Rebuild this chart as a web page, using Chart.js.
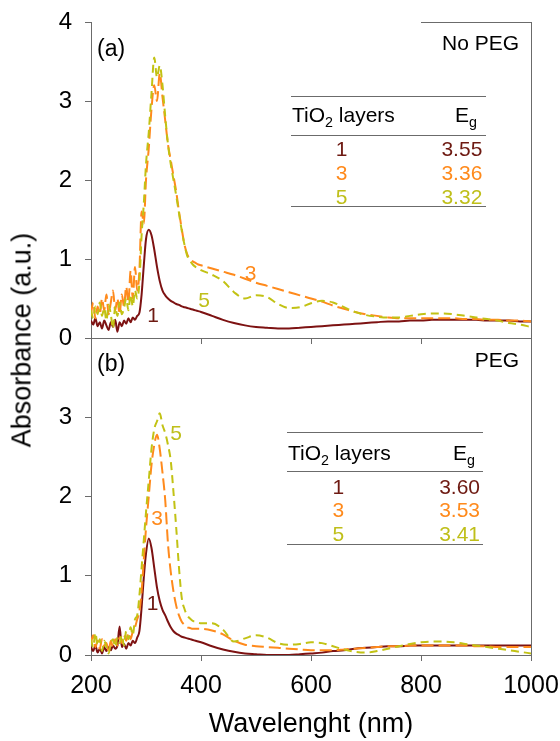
<!DOCTYPE html>
<html>
<head>
<meta charset="utf-8">
<script src="https://cdn.jsdelivr.net/npm/chart.js@4"></script>
<style>
    html, body { margin: 0; padding: 0; background: #fff; }
    .figure { position: relative; width: 560px; height: 741px; font-family: "Liberation Sans", Arial, sans-serif; color: #000; overflow: hidden; }
    .figure canvas { position: absolute; left: 0; }
    .txt { position: absolute; line-height: 1; white-space: nowrap; }
    .hline { position: absolute; height: 0; border-top: 1.5px solid #6b6b6b; }
    .txt sub { font-size: 0.68em; vertical-align: -0.32em; line-height: 0; }
</style>
</head>
<body>
<div class="figure" id="figure"></div>
<script>
// wavelength grid (nm)
const wavelength = [
    200, 204, 208, 212, 216, 220, 224, 228, 232, 236, 240, 244, 248, 252, 256, 260, 264, 268, 272, 276, 280, 284, 288, 292, 296, 300,
    305, 310, 315, 320, 325, 330, 335, 340, 345, 350, 355, 360, 365, 370, 375, 380, 385, 390, 395, 400,
    420, 440, 460, 480, 500, 520, 540, 560, 580, 600, 620, 640, 660, 680, 700, 720, 740, 760, 780, 800,
    820, 840, 860, 880, 900, 920, 940, 960, 980, 1000
];

// (a) No PEG
const noPeg1 = [
    0.22, 0.17, 0.25, 0.15, 0.20, 0.12, 0.22, 0.16, 0.10, 0.20, 0.14, 0.23, 0.08, 0.20, 0.15, 0.22, 0.18, 0.25, 0.20, 0.26, 0.23, 0.28, 0.32, 0.55, 0.92, 1.25,
    1.37, 1.30, 1.12, 0.90, 0.72, 0.60, 0.54, 0.50, 0.47, 0.45, 0.43, 0.42, 0.40, 0.39, 0.38, 0.37, 0.36, 0.35, 0.34, 0.33,
    0.28, 0.23, 0.19, 0.16, 0.14, 0.13, 0.12, 0.12, 0.13, 0.14, 0.15, 0.16, 0.17, 0.18, 0.19, 0.20, 0.21, 0.21, 0.22, 0.22,
    0.23, 0.23, 0.23, 0.23, 0.23, 0.22, 0.22, 0.22, 0.21, 0.21
];
const noPeg3 = [
    0.30, 0.45, 0.25, 0.40, 0.30, 0.50, 0.35, 0.55, 0.30, 0.45, 0.60, 0.35, 0.50, 0.30, 0.55, 0.40, 0.65, 0.45, 0.85, 0.50, 0.90, 0.60, 0.85, 1.60, 1.45, 2.00,
    2.40, 2.90, 3.20, 3.00, 3.35, 3.05, 2.75, 2.45, 2.25, 2.05, 1.85, 1.60, 1.38, 1.18, 1.06, 1.00, 0.97, 0.95, 0.93, 0.92,
    0.88, 0.84, 0.80, 0.75, 0.70, 0.66, 0.62, 0.58, 0.54, 0.50, 0.46, 0.41, 0.37, 0.33, 0.30, 0.28, 0.26, 0.25, 0.25, 0.25,
    0.25, 0.25, 0.25, 0.24, 0.24, 0.23, 0.23, 0.22, 0.22, 0.21
];
const noPeg5 = [
    0.35, 0.25, 0.40, 0.30, 0.45, 0.28, 0.38, 0.22, 0.42, 0.30, 0.12, 0.40, 0.28, 0.45, 0.30, 0.38, 0.50, 0.35, 0.55, 0.40, 0.60, 0.50, 0.70, 1.30, 1.70, 2.20,
    2.60, 3.10, 3.55, 3.30, 3.45, 3.20, 2.80, 2.45, 2.20, 2.00, 1.80, 1.58, 1.36, 1.18, 1.04, 0.98, 0.93, 0.90, 0.88, 0.86,
    0.80, 0.72, 0.58, 0.50, 0.54, 0.52, 0.43, 0.38, 0.39, 0.44, 0.47, 0.45, 0.39, 0.33, 0.29, 0.27, 0.26, 0.26, 0.28, 0.30,
    0.31, 0.31, 0.30, 0.28, 0.26, 0.24, 0.22, 0.19, 0.17, 0.14
];

// (b) PEG
const peg1 = [
    0.10, 0.05, 0.12, 0.03, 0.08, 0.02, 0.10, 0.05, 0.10, 0.06, 0.12, 0.08, 0.12, 0.36, 0.10, 0.14, 0.08, 0.15, 0.12, 0.18, 0.15, 0.22, 0.30, 0.60, 0.98, 1.28,
    1.47, 1.35, 1.10, 0.85, 0.68, 0.57, 0.50, 0.42, 0.35, 0.30, 0.27, 0.25, 0.23, 0.22, 0.21, 0.20, 0.19, 0.18, 0.17, 0.16,
    0.11, 0.07, 0.04, 0.02, 0.01, 0.00, 0.00, 0.00, 0.01, 0.02, 0.03, 0.05, 0.06, 0.08, 0.09, 0.10, 0.11, 0.11, 0.12, 0.12,
    0.12, 0.12, 0.12, 0.12, 0.12, 0.12, 0.12, 0.12, 0.12, 0.12
];
const peg3 = [
    0.15, 0.25, 0.10, 0.18, 0.08, 0.20, 0.12, 0.15, 0.05, 0.18, 0.10, 0.20, 0.12, 0.22, 0.15, 0.25, 0.18, 0.28, 0.20, 0.30, 0.35, 0.45, 0.55, 0.80, 1.20, 1.60,
    2.00, 2.40, 2.65, 2.78, 2.60, 2.30, 1.95, 1.40, 1.05, 0.80, 0.62, 0.50, 0.42, 0.38, 0.35, 0.34, 0.33, 0.33, 0.33, 0.33,
    0.31, 0.26, 0.18, 0.13, 0.11, 0.10, 0.09, 0.08, 0.07, 0.06, 0.06, 0.06, 0.07, 0.08, 0.09, 0.10, 0.11, 0.11, 0.12, 0.12,
    0.12, 0.12, 0.12, 0.12, 0.11, 0.11, 0.10, 0.10, 0.10, 0.10
];
const peg5 = [
    0.20, 0.10, 0.28, 0.12, 0.20, 0.05, 0.18, 0.10, 0.02, 0.15, 0.20, 0.10, 0.22, 0.15, 0.25, 0.12, 0.30, 0.20, 0.35, 0.25, 0.45, 0.50, 0.75, 1.10, 1.45, 1.80,
    2.20, 2.60, 2.85, 2.95, 3.05, 2.90, 2.80, 2.65, 2.45, 2.05, 1.60, 1.10, 0.72, 0.58, 0.50, 0.46, 0.43, 0.42, 0.41, 0.40,
    0.40, 0.32, 0.17, 0.21, 0.25, 0.22, 0.15, 0.13, 0.14, 0.16, 0.15, 0.11, 0.07, 0.04, 0.03, 0.05, 0.08, 0.11, 0.14, 0.16,
    0.17, 0.17, 0.16, 0.14, 0.12, 0.10, 0.08, 0.06, 0.04, 0.02
];

// band gap tables
const layers = ["1", "3", "5"];
const gapNoPeg = ["3.55", "3.36", "3.32"];
const gapPeg = ["3.60", "3.53", "3.41"];

const xTicks = [200, 400, 600, 800, 1000];
const yTicks = [0, 1, 2, 3, 4];

const colors = ["#7d1212", "#ff8a1c", "#c2c214"];
const labelColors = ["#6e1a12", "#ff8a1c", "#bfbf1a"];
const FONT = '"Liberation Sans", Arial, sans-serif';

// ===========================================================================
const figure = document.getElementById("figure");

const createHTML = (tag, attrs, text) => {
    const el = document.createElement(tag);
    Object.entries(attrs || {}).forEach(([k, v]) => {
        if (k === "style") Object.assign(el.style, v);
        else el.setAttribute(k, v);
    });
    if (text !== undefined) el.innerHTML = text;
    return el;
};

const addText = (html, style) => {
    const el = createHTML("div", { class: "txt", style }, html);
    figure.appendChild(el);
    return el;
};

const toPoints = (vals) => wavelength.map((w, i) => ({ x: w, y: vals[i] }));

const series = (vals, idx) => ({
    data: toPoints(vals),
    borderColor: colors[idx],
    borderWidth: 2,
    borderDash: idx === 0 ? [] : (idx === 1 ? [12, 5] : [8, 5]),
    pointRadius: 0,
    cubicInterpolationMode: "monotone",
    fill: false
});

// scale labels must not push the plot area around
const noAutoPadding = (s) => {
    s.paddingLeft = 0; s.paddingRight = 0; s.paddingTop = 0; s.paddingBottom = 0;
};

// right border (and the short top border piece of panel a)
const frame = (topFrom) => ({
    id: "frame",
    afterDraw(chart) {
        const { ctx, chartArea: a, scales } = chart;
        ctx.save();
        ctx.strokeStyle = "#6b6b6b";
        ctx.lineWidth = 1;
        ctx.beginPath();
        ctx.moveTo(a.right + 0.5, a.top);
        ctx.lineTo(a.right + 0.5, a.bottom);
        if (topFrom !== null) {
            ctx.moveTo(scales.x.getPixelForValue(topFrom), a.top + 0.5);
            ctx.lineTo(a.right + 0.5, a.top + 0.5);
        }
        ctx.stroke();
        ctx.restore();
    }
});

const panel = (cfg) => {
    const canvas = createHTML("canvas", { width: 560, height: cfg.height, style: { top: cfg.top + "px" } });
    figure.appendChild(canvas);

    new Chart(canvas, {
        type: "line",
        data: {
            datasets: [series(cfg.values[2], 2), series(cfg.values[1], 1), series(cfg.values[0], 0)]
        },
        options: {
            responsive: false,
            animation: false,
            devicePixelRatio: 1,
            layout: { padding: { top: cfg.padTop, right: 29, left: 0, bottom: 0 } },
            plugins: { legend: { display: false }, tooltip: { enabled: false } },
            scales: {
                x: {
                    type: "linear",
                    min: 200,
                    max: 1000,
                    afterBuildTicks: (s) => { s.ticks = xTicks.map(v => ({ value: v })); },
                    afterFit: (s) => { s.height = cfg.xHeight; noAutoPadding(s); },
                    border: { display: true, color: "#6b6b6b", width: 1 },
                    grid: { drawOnChartArea: false, drawTicks: true, tickLength: 6, color: "#6b6b6b" },
                    ticks: {
                        display: cfg.showX, padding: 10, color: "#000", maxRotation: 0,
                        font: { family: FONT, size: 25 },
                        callback: (v) => String(v)
                    },
                    title: {
                        display: cfg.showX,
                        text: "Wavelenght (nm)",
                        color: "#000",
                        font: { family: FONT, size: 27 },
                        padding: { top: 0, bottom: 0 }
                    }
                },
                y: {
                    min: 0,
                    max: 4,
                    afterBuildTicks: (s) => { s.ticks = yTicks.map(v => ({ value: v })); },
                    afterFit: (s) => { s.width = 91; noAutoPadding(s); },
                    border: { display: true, color: "#6b6b6b", width: 1 },
                    grid: { drawOnChartArea: false, drawTicks: true, tickLength: 6, color: "#6b6b6b" },
                    ticks: {
                        padding: 13,
                        color: "#000",
                        font: { family: FONT, size: 24 },
                        callback: (v) => (cfg.hideTop && v === 4) ? "" : String(v)
                    }
                }
            }
        },
        plugins: [frame(cfg.topFrom)]
    });
};

// Panel (a): chart area 22..338
panel({ top: 0, height: 352, padTop: 22, xHeight: 14, showX: false, hideTop: false, topFrom: 800,
        values: [noPeg1, noPeg3, noPeg5] });
// Panel (b): chart area 338..655
panel({ top: 326, height: 415, padTop: 12, xHeight: 86, showX: true, hideTop: true, topFrom: null,
        values: [peg1, peg3, peg5] });

// Shared y title
addText("Absorbance (a.u.)", {
    left: "22px", top: "340px", fontSize: "27px",
    transform: "translate(-50%, -50%) rotate(-90deg)"
});

// Panel labels
addText("(a)", { left: "97px", top: "37px", fontSize: "23px" });
addText("No PEG", { right: "41px", top: "32px", fontSize: "21px" });
addText("(b)", { left: "97px", top: "352px", fontSize: "23px" });
addText("PEG", { right: "41px", top: "349px", fontSize: "21px" });

// Curve labels
const curveLabel = (t, x, y, idx) => addText(t, {
    left: x + "px", top: y + "px", fontSize: "21px", color: labelColors[idx],
    transform: "translate(-50%, -50%)"
});
curveLabel("3", 250.5, 272, 1);
curveLabel("5", 204, 298.5, 2);
curveLabel("1", 153, 314, 0);
curveLabel("5", 176, 431.5, 2);
curveLabel("3", 157, 516.5, 1);
curveLabel("1", 152.5, 601.5, 0);

// Band gap tables
const gapTable = (t) => {
    const line = (y) => figure.appendChild(createHTML("div", { class: "hline",
        style: { left: t.left + "px", width: (t.right - t.left) + "px", top: y + "px" } }));
    line(t.lines[0]); line(t.lines[1]); line(t.lines[2]);
    const fs = 21;
    const topOf = (baseline) => (baseline - 0.8465 * fs) + "px";
    addText("TiO<sub>2</sub> layers", { left: (t.left + 1) + "px", top: topOf(t.header), fontSize: fs + "px" });
    addText("E<sub>g</sub>", { right: (560 - t.egRight) + "px", top: topOf(t.header), fontSize: fs + "px" });
    layers.forEach((l, i) => {
        addText(l, { left: t.colX + "px", top: topOf(t.rows[i]), fontSize: fs + "px", color: labelColors[i],
                     transform: "translateX(-50%)" });
        addText(t.values[i], { right: (560 - t.valRight) + "px", top: topOf(t.rows[i]), fontSize: fs + "px", color: labelColors[i] });
    });
};

gapTable({ left: 291, right: 486, lines: [96, 135, 206], header: 121.7, rows: [155.8, 180.2, 203.5],
           colX: 341.7, valRight: 482.3, egRight: 477, values: gapNoPeg });
gapTable({ left: 287, right: 483, lines: [432, 471, 544], header: 460, rows: [493.8, 516.7, 540.5],
           colX: 338.3, valRight: 480, egRight: 475, values: gapPeg });
</script>
</body>
</html>
